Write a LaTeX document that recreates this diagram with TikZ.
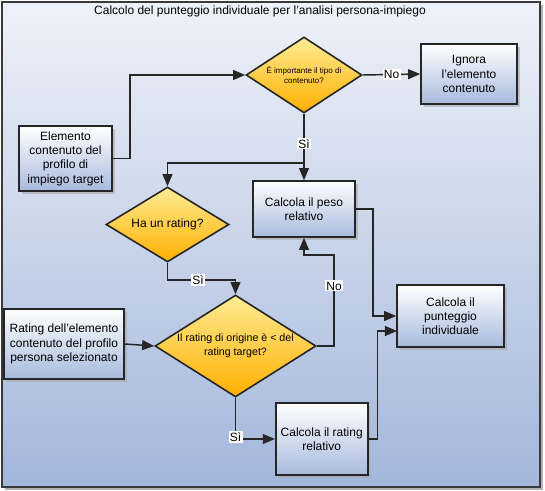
\documentclass[tikz,border=0pt]{standalone}
\usepackage{fontspec}
\setmainfont{Liberation Sans}
\usetikzlibrary{arrows,shapes.geometric,shadows}
\definecolor{frameLine}{HTML}{3A3A3A}
\definecolor{backTop}{HTML}{EEF1F8}
\definecolor{backBottom}{HTML}{A3B7DB}
\definecolor{boxBottom}{HTML}{A7BADD}
\definecolor{askTop}{HTML}{FFEC94}
\definecolor{askBottom}{HTML}{FFB000}
\newcommand\colorFrame{frameLine}
\newcommand\colorEdge{black!85}
\newcommand\textNormal{\fontsize{9}{10.7}\selectfont}
\tikzset{
	processBox/.style={draw=\colorEdge, line width=1.2pt, top color=white, bottom color=boxBottom,
		drop shadow={shadow xshift=2pt, shadow yshift=-2pt, fill=black!35, opacity=0.6},
		align=center, inner sep=0pt, font=\textNormal},
	decisionDiamond/.style={diamond, draw=\colorEdge, line width=1.2pt, top color=askTop, bottom color=askBottom,
		align=center, inner sep=0pt},
	flowLine/.style={draw=\colorEdge, line width=1.1pt, -triangle 45},
	branchLabel/.style={fill=white, inner sep=1pt, font=\textNormal},
	size/.style 2 args={minimum width={#1*0.75pt}, minimum height={#2*0.75pt}}
}

\begin{document}
\begin{tikzpicture}[x=0.75pt, y=-0.75pt]
	\useasboundingbox (0,0) rectangle (545,491);
	
	% frame and title
	\fill[black!30] (5,5) rectangle (543,490);
	\draw[\colorFrame, line width=1.5pt, top color=backTop, bottom color=backBottom] (2,2) rectangle (540,487);
	\node[font=\textNormal] (title) at (260,11) {Calcolo del punteggio individuale per l’analisi persona-impiego};
	
	% decisions
	\node[decisionDiamond, size={116}{76}, shape aspect=1.53, font=\fontsize{6}{8}\selectfont] (askType) at (304,75) {È importante il tipo di\\contenuto?};
	\node[decisionDiamond, size={123}{75}, shape aspect=1.64, font=\textNormal] (askRating) at (167.5,224.5) {Ha un rating?};
	\node[decisionDiamond, size={161}{102}, shape aspect=1.58, font=\fontsize{8}{10.5}\selectfont] (askLower) at (235.5,346) {Il rating di origine è < del\\rating target?};
	
	% boxes
	\node[processBox, size={96}{60}] (ignore) at (469,74) {Ignora\\l’elemento\\contenuto};
	\node[processBox, size={93}{65}] (element) at (65.5,158.5) {Elemento\\contenuto del\\profilo di\\impiego target};
	\node[processBox, size={102}{56}] (weight) at (304,209) {Calcola il peso\\relativo};
	\node[processBox, size={120}{70}] (source) at (64,344) {Rating dell’elemento\\contenuto del profilo\\persona selezionato};
	\node[processBox, size={92}{72}] (relRating) at (321.7,439) {Calcola il rating\\relativo};
	\node[processBox, size={107}{62}] (score) at (450.5,316) {Calcola il\\punteggio\\individuale};
	
	% connectors
	\coordinate (split) at (304,163);
	\draw[flowLine] (element.east) to (130,158.5) to (130,75) to (askType.west);
	\draw[flowLine] (askType.east) to node[branchLabel] {No} (ignore.west);
	\draw[flowLine] (askType.south) to node[branchLabel, pos=0.45] {Sì} (weight.north);
	\draw[flowLine] (split) to (167.5,163) to (askRating.north);
	\draw[flowLine] (askRating.south) to (167.5,280) to node[branchLabel, pos=0.45] {Sì} (235.5,280) to (askLower.north);
	\draw[flowLine] (source.east) to (askLower.west);
	\draw[flowLine] (askLower.east) to (334,346) to node[branchLabel, pos=0.66] {No} (334,255) to (304,255) to (weight.south);
	\draw[flowLine] (askLower.south) to (235.5,439) to (relRating.west);
	\node[branchLabel] (yesLower) at (235.5,437) {Sì};
	\draw[flowLine] (weight.east) to (373,209) to (373,316) to (score.west);
	\draw[flowLine] (relRating.east) to (377.7,439) to (377.7,331) to (397,331);
\end{tikzpicture}
\end{document}
